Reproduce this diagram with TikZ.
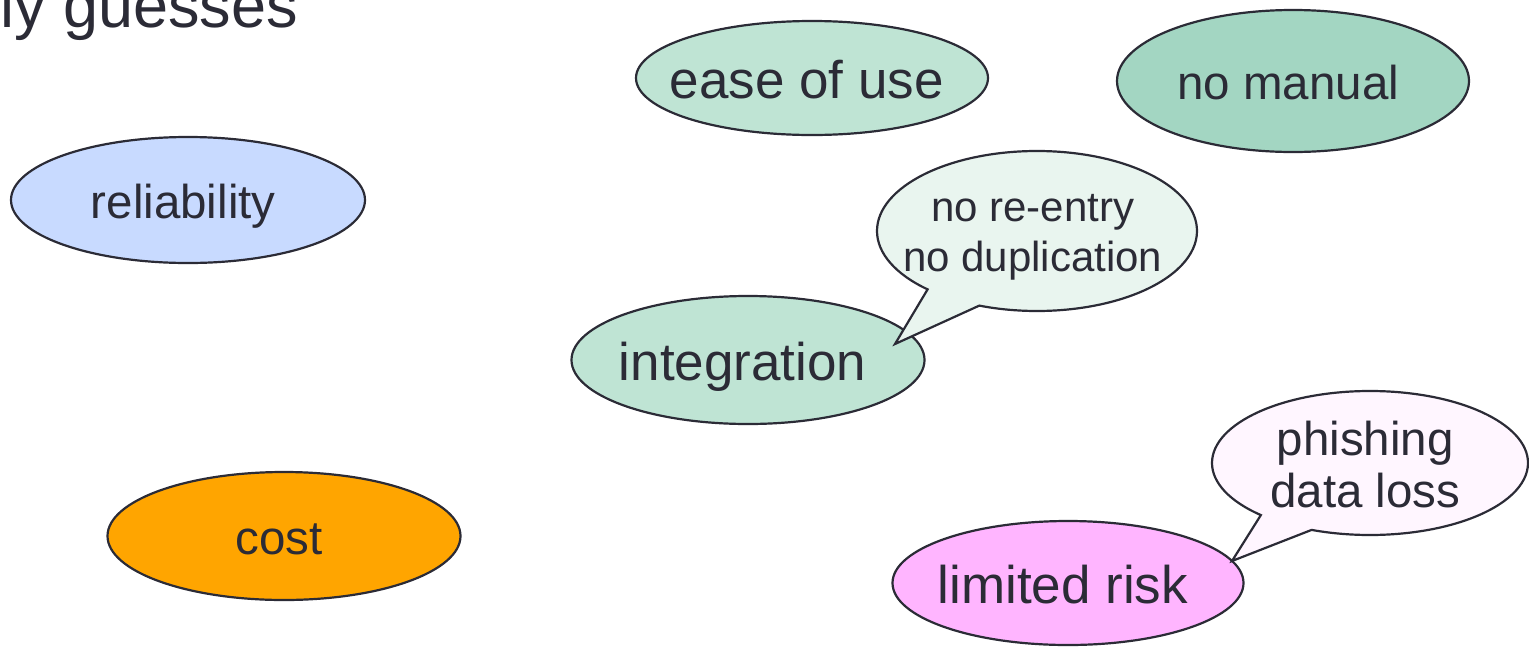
\documentclass[tikz,border=0pt]{standalone}
\usepackage{fontspec}
\setmainfont{Liberation Sans}
\usetikzlibrary{shapes.geometric,shapes.callouts}

\definecolor{inkc}{HTML}{2B2B36}
\definecolor{mintA}{HTML}{BFE4D4}
\definecolor{mintB}{HTML}{A3D6C2}
\definecolor{mintC}{HTML}{E9F5EF}
\definecolor{skyA}{HTML}{C8DAFF}
\definecolor{orangeA}{HTML}{FFA500}
\definecolor{pinkA}{HTML}{FFB5FF}
\definecolor{pinkB}{HTML}{FFF6FF}

% one label line with a fixed height and depth, so every baseline sits
% the same distance below the centre of its bubble; the trailing space
% sets the text a little left of centre
\newcommand\lblline[1]{\smash{#1}\rule[-0.12em]{0pt}{1.0em}\hspace*{0.2em}}

\tikzset{
  bubble/.style={ellipse, draw=inkc, line width=2.2pt,
    inner xsep=-60pt, inner ysep=-20pt, text=inkc, align=center},
  talk/.style={ellipse callout, draw=inkc, line width=2.2pt,
    inner xsep=-60pt, inner ysep=-20pt, text=inkc, align=center,
    callout pointer arc=22},
  big/.style={font=\fontsize{53}{60}\selectfont},
  mid/.style={font=\fontsize{47.5}{52}\selectfont},
  small/.style={font=\fontsize{42}{50}\selectfont},
}

\begin{document}
\begin{tikzpicture}[x=1pt,y=-1pt]
\useasboundingbox (0,0) rectangle (1529,646);

% heading text running off the top-left edge
\node[anchor=base west, inner sep=0pt, text=inkc,
  font=\fontsize{63}{66}\selectfont] (head) at (0,27) {ly guesses};

% plain ellipses
\node[bubble, big, fill=mintA, minimum width=352, minimum height=114]
  (ease) at (812,78) {\lblline{ease of use}};
\node[bubble, mid, fill=mintB, minimum width=352, minimum height=142]
  (manual) at (1293,81) {\lblline{no manual}};
\node[bubble, mid, fill=skyA, minimum width=354, minimum height=126]
  (reliab) at (188,200) {\lblline{reliability}};
\node[bubble, big, fill=mintA, minimum width=353, minimum height=128]
  (integ) at (748,360) {\lblline{integration}};
\node[bubble, mid, fill=orangeA, minimum width=353, minimum height=128]
  (cost) at (284,536) {\lblline{cost}};
\node[bubble, big, fill=pinkA, minimum width=351, minimum height=124]
  (risk) at (1068,583) {\lblline{limited risk}};

% pointer tips of the speech bubbles
\coordinate (tipA) at (895,344);
\coordinate (tipB) at (1232,561);

% speech bubbles
\node[talk, small, fill=mintC, minimum width=320, minimum height=160,
  callout absolute pointer=(tipA)]
  (reentry) at (1037,231) {\lblline{no re-entry}\\\lblline{no duplication}};
\node[talk, mid, fill=pinkB, minimum width=316, minimum height=144,
  callout absolute pointer=(tipB)]
  (phish) at (1370,463) {\lblline{phishing}\\\lblline{data loss}};
\end{tikzpicture}
\end{document}
